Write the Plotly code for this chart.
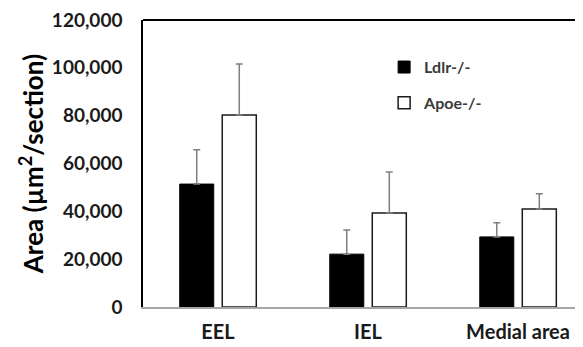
import plotly.graph_objects as go

categories = ["EEL", "IEL", "Medial area"]
ldlr_mean = [51400, 22100, 29300]
ldlr_err = [14300, 10100, 5900]
apoe_mean = [80300, 39300, 41000]
apoe_err = [21300, 17100, 6400]
series_names = ["Ldlr-/-", "Apoe-/-"]
y_ticks = [0, 20000, 40000, 60000, 80000, 100000, 120000]

FONT = "Lato"

fig = go.Figure()
fig.add_trace(go.Bar(
    x=categories, y=ldlr_mean, name=series_names[0], legendgroup="a",
    marker=dict(color="black", line=dict(color="black", width=1)),
    error_y=dict(type="data", array=ldlr_err, arrayminus=[0, 0, 0], symmetric=False,
                 color="#7f7f7f", thickness=1.5, width=3.5),
))
fig.add_trace(go.Bar(
    x=categories, y=apoe_mean, name=series_names[1], legendgroup="b",
    marker=dict(color="white", line=dict(color="#1a1a1a", width=1.5)),
    error_y=dict(type="data", array=apoe_err, arrayminus=[0, 0, 0], symmetric=False,
                 color="#7f7f7f", thickness=1.5, width=3.5),
))

fig.update_layout(
    width=575, height=339,
    margin=dict(l=135, r=0, t=12, b=40, autoexpand=False),
    paper_bgcolor="white", plot_bgcolor="white",
    barmode="group", bargap=0.433, bargroupgap=0.2,
    font=dict(family=FONT, color="#1a1a1a"),
    legend=dict(x=0.548, y=0.895, xanchor="left", yanchor="top",
                font=dict(family=FONT, size=16, color="#3a3a3a", weight="bold"),
                traceorder="grouped", tracegroupgap=12, itemwidth=30,
                bgcolor="rgba(0,0,0,0)"),
    xaxis=dict(range=[-0.5, 2.433], showline=True, linecolor="#a6a6a6", linewidth=2,
               ticks="", showgrid=False, zeroline=False, ticklabelstandoff=6,
               tickfont=dict(family=FONT, size=20, color="#1a1a1a", weight="bold")),
    yaxis=dict(range=[0, 120000], tickvals=y_ticks, tickformat=",d",
               showline=True, linecolor="black", linewidth=1.5, ticklabeloverflow="allow",
               showgrid=False, zeroline=False, ticks="", ticklabelstandoff=15,
               tickfont=dict(family=FONT, size=19, color="#1a1a1a", weight="bold"),
               title=dict(text="Area (µm<sup>2</sup>/section)", standoff=1,
                          font=dict(family=FONT, size=26, color="black", weight="bold"))),
    showlegend=True,
)
fig.add_shape(type="line", xref="paper", yref="paper", x0=0, x1=1, y0=1, y1=1,
              line=dict(color="black", width=2))

fig.write_html("out.html")
